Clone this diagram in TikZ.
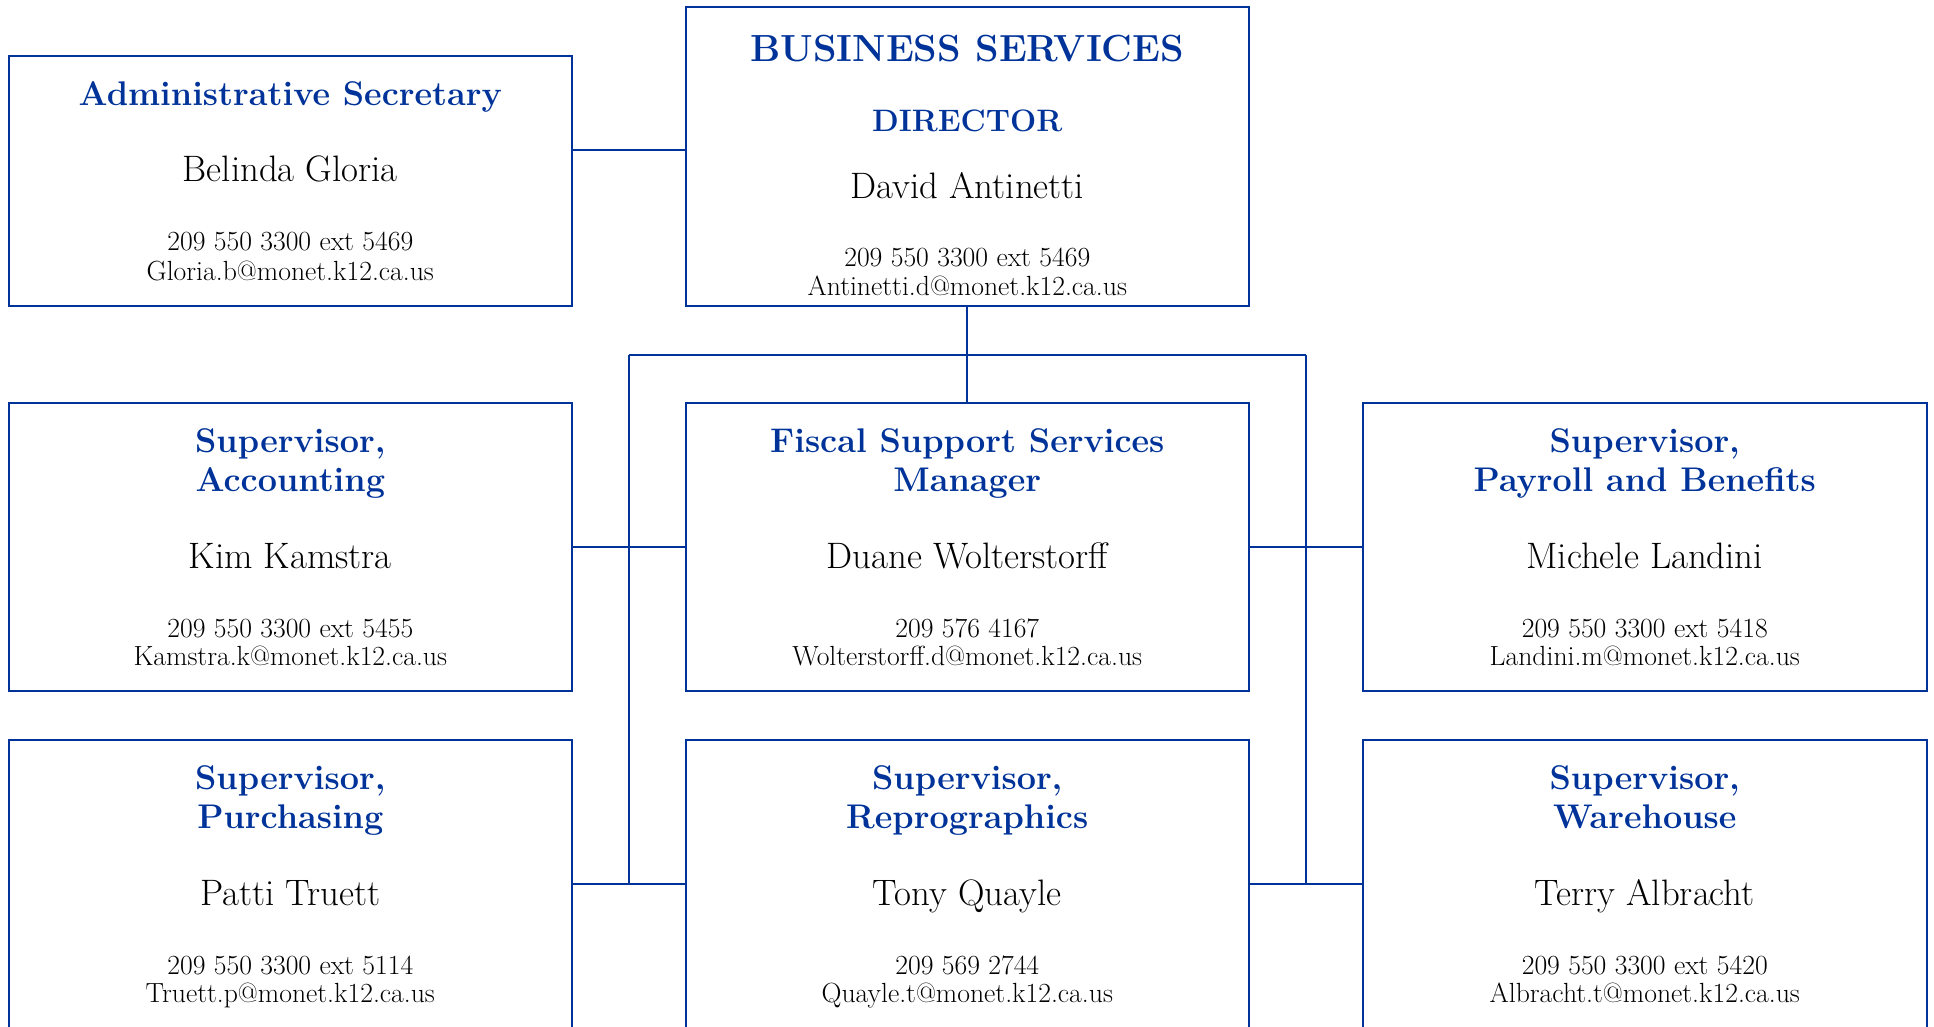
\documentclass[tikz,border=0pt]{standalone}
\definecolor{orgblue}{RGB}{0,51,153}
\tikzset{
  card/.style={draw=orgblue, line width=2pt, rectangle, inner sep=0pt, minimum width=563.5pt, minimum height=287.5pt},
  link/.style={draw=orgblue, line width=2pt},
  ttl/.style={anchor=base, inner sep=0pt, text=orgblue, font=\fontsize{34.2}{40}\selectfont\bfseries},
  bigttl/.style={anchor=base, inner sep=0pt, text=orgblue, font=\fontsize{37.8}{44}\selectfont\bfseries},
  dirttl/.style={anchor=base, inner sep=0pt, text=orgblue, font=\fontsize{31}{36}\selectfont\bfseries},
  nm/.style={anchor=base, inner sep=0pt, font=\fontsize{36.8}{40}\selectfont},
  ct/.style={anchor=base, inner sep=0pt, font=\fontsize{27.7}{30}\selectfont},
}
\newcommand\stdcard[8]{%
  \node[card] (#1) at (#2, #3+143.75) {};
  \node[ttl] (#1-ta) at ([yshift=-50.5pt]#1.north) {#4};
  \node[ttl] (#1-tb) at ([yshift=-89.4pt]#1.north) {#5};
  \node[nm]  (#1-nm) at ([yshift=-166.3pt]#1.north) {#6};
  \node[ct]  (#1-ph) at ([yshift=-235.2pt]#1.north) {#7};
  \node[ct]  (#1-em) at ([yshift=-263.8pt]#1.north) {#8};
}
\begin{document}
\begin{tikzpicture}[x=1pt, y=-1pt]
\useasboundingbox (0,0) rectangle (1934,1026);
\clip (0,0) rectangle (1934,1026);

% Administrative Secretary
\node[card, minimum height=250.5pt] (admin) at (290.3,180.75) {};
\node[ttl] (admin-t) at ([yshift=-50.5pt]admin.north) {Administrative Secretary};
\node[nm]  (admin-nm) at ([yshift=-127.2pt]admin.north) {Belinda Gloria};
\node[ct]  (admin-ph) at ([yshift=-196.2pt]admin.north) {209 550 3300 ext 5469};
\node[ct]  (admin-em) at ([yshift=-225.5pt]admin.north) {Gloria.b@monet.k12.ca.us};

% Director
\node[card, minimum height=298.6pt] (bus) at (967.25,156.7) {};
\node[bigttl] (bus-ta) at ([yshift=-55.3pt]bus.north) {BUSINESS SERVICES};
\node[dirttl] (bus-tb) at ([yshift=-125pt]bus.north) {DIRECTOR};
\node[nm] (bus-nm) at ([yshift=-192pt]bus.north) {David Antinetti};
\node[ct] (bus-ph) at ([yshift=-260.3pt]bus.north) {209 550 3300 ext 5469};
\node[ct] (bus-em) at ([yshift=-289.3pt]bus.north) {Antinetti.d@monet.k12.ca.us};

% Row 2
\stdcard{acct}{290.3}{403}{Supervisor,}{Accounting}{Kim Kamstra}{209 550 3300 ext 5455}{Kamstra.k@monet.k12.ca.us}
\stdcard{fiscal}{967.25}{403}{Fiscal Support Services}{Manager}{Duane Wolterstorff}{209 576 4167}{Wolterstorff.d@monet.k12.ca.us}
\stdcard{pay}{1644.75}{403}{Supervisor,}{Payroll and Benefits}{Michele Landini}{209 550 3300 ext 5418}{Landini.m@monet.k12.ca.us}

% Row 3
\stdcard{purch}{290.3}{740}{Supervisor,}{Purchasing}{Patti Truett}{209 550 3300 ext 5114}{Truett.p@monet.k12.ca.us}
\stdcard{repro}{967.25}{740}{Supervisor,}{Reprographics}{Tony Quayle}{209 569 2744}{Quayle.t@monet.k12.ca.us}
\stdcard{ware}{1644.75}{740}{Supervisor,}{Warehouse}{Terry Albracht}{209 550 3300 ext 5420}{Albracht.t@monet.k12.ca.us}

% Connectors
\coordinate (ac) at (0,150.4);
\coordinate (bl) at (629,355);
\coordinate (br) at (1306,355);
\draw[link] (admin.east |- ac) -- (bus.west |- ac);
\draw[link] (bus.south) -- (fiscal.north);
\draw[link] (bl) -- (br);
\draw[link] (bl) -- (bl |- purch.east);
\draw[link] (br) -- (br |- ware.west);
\draw[link] (acct.east) -- (fiscal.west);
\draw[link] (fiscal.east) -- (pay.west);
\draw[link] (purch.east) -- (repro.west);
\draw[link] (repro.east) -- (ware.west);
\end{tikzpicture}
\end{document}
